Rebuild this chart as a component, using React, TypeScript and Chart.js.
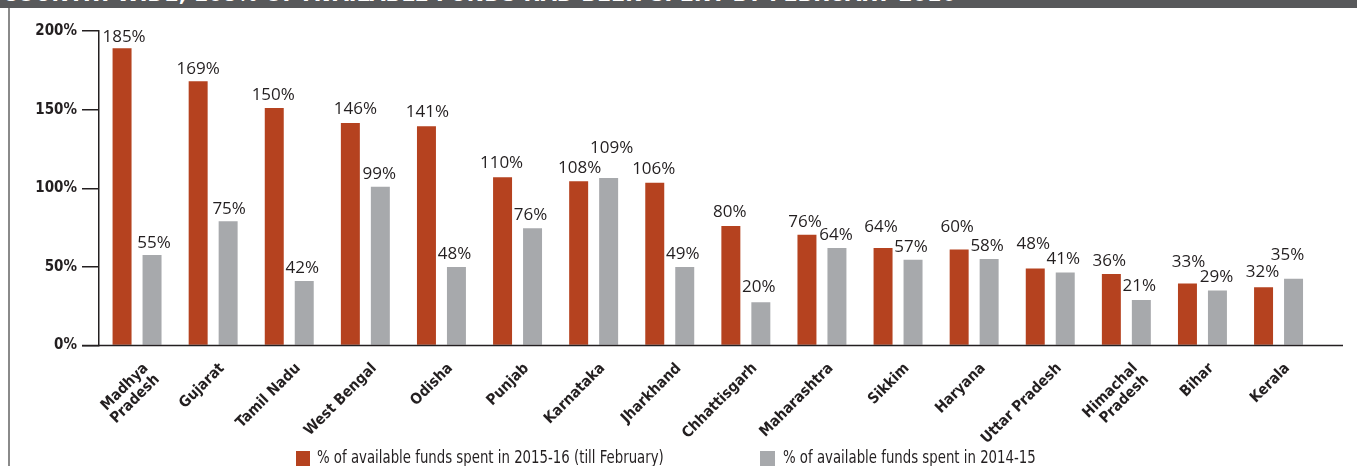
import React, { useEffect, useRef } from "react";
import { Chart, registerables } from "chart.js";

Chart.register(...registerables);

// ---- data ----
const categories: (string | string[])[] = [
  ["Madhya", "Pradesh"],
  "Gujarat",
  "Tamil Nadu",
  "West Bengal",
  "Odisha",
  "Punjab",
  "Karnataka",
  "Jharkhand",
  "Chhattisgarh",
  "Maharashtra",
  "Sikkim",
  "Haryana",
  "Uttar Pradesh",
  ["Himachal", "Pradesh"],
  "Bihar",
  "Kerala",
];

// bar heights as drawn in the source graphic (%)
const spent2015Bars = [189, 168, 151, 141.5, 139.5, 107, 104.5, 103.5, 76, 70.5, 62, 61, 49, 45.5, 39.5, 37];
const spent2014Bars = [57.5, 79, 41, 101, 50, 74.5, 106.5, 50, 27.5, 62, 54.5, 55, 46.5, 29, 35, 42.5];

// value labels printed above the bars (%)
const spent2015Labels = [185, 169, 150, 146, 141, 110, 108, 106, 80, 76, 64, 60, 48, 36, 33, 32];
const spent2014Labels = [55, 75, 42, 99, 48, 76, 109, 49, 20, 64, 57, 58, 41, 21, 29, 35];

const yTicks = [0, 50, 100, 150, 200];

const seriesNames = [
  "% of available funds spent in 2015-16 (till February)",
  "% of available funds spent in 2014-15",
];
const titleText = "COUNTRY-WIDE, 108% OF AVAILABLE FUNDS HAD BEEN SPENT BY FEBRUARY 2016";

// label placement nudges (px) to follow the source layout
const liftRed = [-2, -1, 0, 1, 1, 1, 0, 1, 1, 0, 8, 10, 11, 0, 8, 2];
const liftGray = [-1, -1, 0, 0, 0, 0, 17, 0, 2, 0, 0, 0, 0, 1, 0, 11];
const shiftRed = [2, 0, -1, 5, 1, -1, 1, -1, -1, -2, -2, -2, -2, -2, 1, -1];
const shiftGray = [2, 1, -2, -1, -2, -2, 3, -2, -2, -1, -2, -2, -2, -2, -1, -6];

const RED = "#b5421f";
const GRAY = "#a7a9ac";
const INK = "#231f20";

const valueLabelPlugin = {
  id: "valueLabels",
  afterDatasetsDraw(chart: any) {
    const ctx = chart.ctx;
    const yScale = chart.scales.y;
    const zeroY = yScale.getPixelForValue(0);
    // baseline extending past the last category
    ctx.save();
    ctx.strokeStyle = INK;
    ctx.lineWidth = 1.5;
    ctx.beginPath();
    ctx.moveTo(chart.chartArea.left - 17, zeroY);
    ctx.lineTo(chart.width - 14, zeroY);
    ctx.stroke();
    ctx.restore();

    const sets = [
      { labels: spent2015Labels, lift: liftRed, shift: shiftRed },
      { labels: spent2014Labels, lift: liftGray, shift: shiftGray },
    ];
    ctx.save();
    ctx.font = "17px 'Open Sans', 'Noto Sans', sans-serif";
    ctx.fillStyle = INK;
    ctx.textAlign = "center";
    ctx.textBaseline = "alphabetic";
    sets.forEach((s, di) => {
      const meta = chart.getDatasetMeta(di);
      meta.data.forEach((bar: any, i: number) => {
        ctx.fillText(s.labels[i] + "%", bar.x + s.shift[i], bar.y - 8 - s.lift[i]);
      });
    });
    ctx.restore();
  },
};

export default function App() {
  const canvasRef = useRef<HTMLCanvasElement | null>(null);

  useEffect(() => {
    if (!canvasRef.current) return;
    const chart = new Chart(canvasRef.current, {
      type: "bar",
      data: {
        labels: categories,
        datasets: [
          {
            label: seriesNames[0],
            data: spent2015Bars,
            backgroundColor: RED,
            categoryPercentage: 0.788,
            barPercentage: 0.633,
          },
          {
            label: seriesNames[1],
            data: spent2014Bars,
            backgroundColor: GRAY,
            categoryPercentage: 0.788,
            barPercentage: 0.633,
          },
        ],
      },
      options: {
        responsive: true,
        maintainAspectRatio: false,
        animation: false,
        layout: { padding: { left: 0, top: 31, right: 40.4, bottom: 0 } },
        plugins: {
          legend: { display: false },
          tooltip: { enabled: false },
          title: { display: false },
        },
        scales: {
          x: {
            offset: true,
            grid: { display: false, drawTicks: false },
            border: { display: false },
            ticks: {
              autoSkip: false,
              minRotation: 45,
              maxRotation: 45,
              padding: 15,
              labelOffset: 9,
              color: INK,
              font: { family: "'DejaVu Sans Condensed', 'DejaVu Sans', sans-serif", size: 15, weight: "bold", lineHeight: 1.05 },
            },
            afterFit: (scale: any) => {
              scale.height = 120.5;
            },
          },
          y: {
            min: 0,
            max: 200,
            afterBuildTicks: (scale: any) => {
              scale.ticks = yTicks.map((v) => ({ value: v }));
            },
            grid: {
              drawOnChartArea: false,
              drawTicks: true,
              tickLength: 17,
              color: INK,
              lineWidth: 1.5,
            },
            border: { display: true, color: INK, width: 1.5 },
            ticks: {
              padding: 5,
              color: INK,
              callback: (v: any) => v + "%",
              font: { family: "'DejaVu Sans Condensed', 'DejaVu Sans', sans-serif", size: 15, weight: "bold" },
            },
            afterFit: (scale: any) => {
              scale.width = 99;
            },
          },
        },
      },
      plugins: [valueLabelPlugin],
    });
    return () => chart.destroy();
  }, []);

  const legendFont = "'DejaVu Sans Condensed', 'DejaVu Sans', sans-serif";
  const legendText: React.CSSProperties = {
    position: "absolute",
    top: 447,
    whiteSpace: "nowrap",
    color: INK,
    fontFamily: legendFont,
    fontSize: 17,
    lineHeight: "20px",
    transform: "scaleX(0.87)",
    transformOrigin: "left top",
  };

  return (
    <div
      style={{
        position: "absolute",
        left: 0,
        top: 0,
        width: 1357,
        height: 466,
        overflow: "hidden",
        background: "#ffffff",
      }}
    >
      <div
        style={{
          position: "absolute",
          left: 0,
          top: 0,
          width: 1357,
          height: 8,
          background: "#58595b",
          overflow: "hidden",
        }}
      >
        <div
          style={{
            position: "absolute",
            left: 2,
            top: -18,
            whiteSpace: "nowrap",
            color: "#ffffff",
            fontFamily: "'DejaVu Sans Condensed', 'DejaVu Sans', sans-serif",
            fontWeight: "bold",
            fontSize: 23,
            lineHeight: "23px",
          }}
        >
          {titleText}
        </div>
      </div>
      <div
        style={{
          position: "absolute",
          left: 8,
          top: 8,
          width: 1.5,
          height: 458,
          background: "#8a8a8a",
        }}
      />
      <div style={{ position: "absolute", left: 0, top: 0, width: 1357, height: 466 }}>
        <canvas ref={canvasRef} />
      </div>
      <div style={{ position: "absolute", left: 296, top: 451, width: 14, height: 16, background: RED }} />
      <div style={{ ...legendText, left: 317 }}>{seriesNames[0]}</div>
      <div style={{ position: "absolute", left: 760, top: 451, width: 15, height: 16, background: GRAY }} />
      <div style={{ ...legendText, left: 783 }}>{seriesNames[1]}</div>
    </div>
  );
}
